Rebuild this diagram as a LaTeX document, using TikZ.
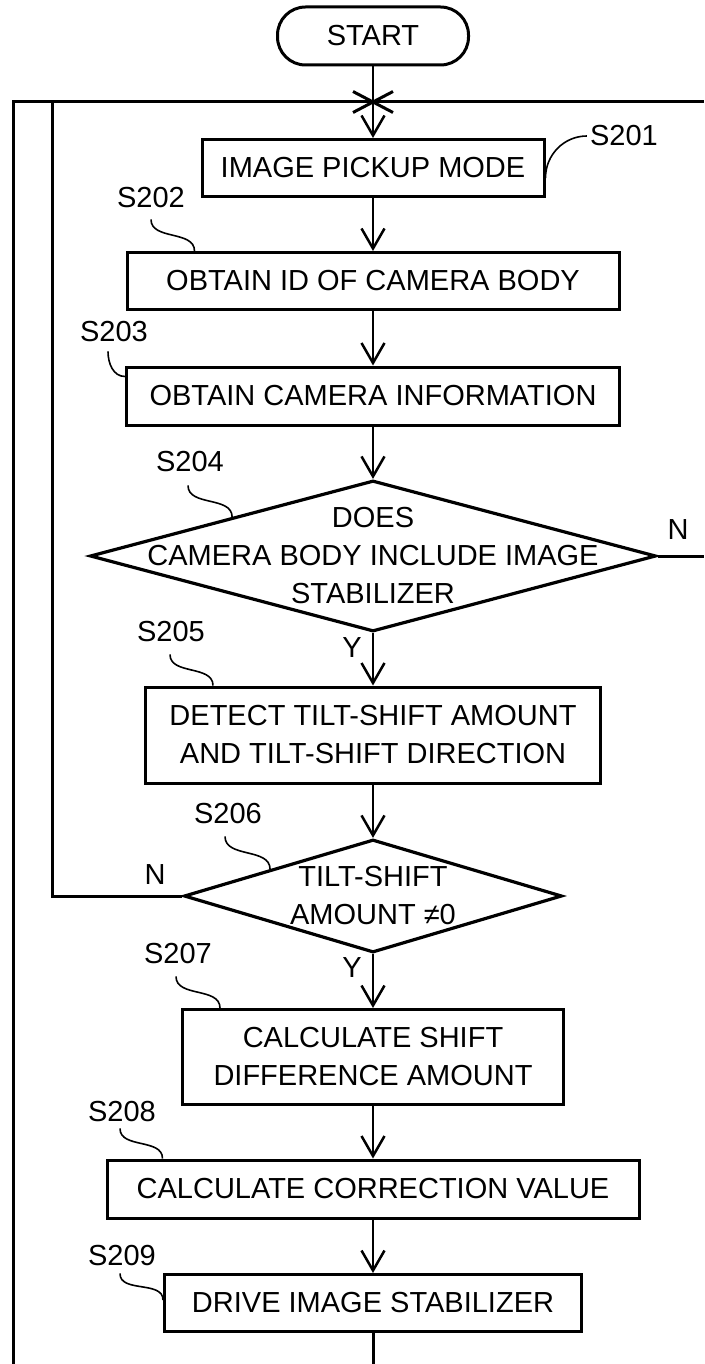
\documentclass[tikz,border=0pt]{standalone}
\usepackage{fontspec}
\setmainfont{Liberation Sans}
\usetikzlibrary{shapes.geometric,arrows.meta,calc}

\tikzset{
  terminal/.style={draw,line width=3pt,rounded corners=28pt,minimum width=191pt,minimum height=58pt,inner sep=0pt},
  process/.style={draw,line width=3pt,minimum height=57pt,inner sep=0pt,align=center},
  decision/.style={draw,diamond,line width=3.2pt,inner sep=0pt},
  steplabel/.style={inner sep=0pt},
  leader/.style={line width=1.6pt},
  flow/.style={line width=2.5pt,-{Straight Barb[length=20pt,width=23pt]}},
  loopline/.style={line width=3pt}
}

\begin{document}
\begin{tikzpicture}[x=1pt,y=1pt,font=\fontsize{29}{38}\selectfont]
\useasboundingbox (0,0) rectangle (704,-1364);
\node[terminal] (start) at (373,-36) {START};
\node[process,minimum width=342pt] (b201) at (373,-168) {IMAGE PICKUP MODE};
\node[process,minimum width=492pt] (b202) at (373,-281) {OBTAIN ID OF CAMERA BODY};
\node[process,minimum width=493pt,minimum height=58pt] (b203) at (373,-396) {OBTAIN CAMERA INFORMATION};
\node[decision,minimum width=566pt,minimum height=151pt] (d204) at (373,-556) {};
\node[align=center] (t204) at (d204) {DOES\\CAMERA BODY INCLUDE IMAGE\\STABILIZER};
\node[process,minimum width=455pt,minimum height=96pt] (b205) at (373,-735) {DETECT TILT-SHIFT AMOUNT\\AND TILT-SHIFT DIRECTION};
\node[decision,minimum width=378pt,minimum height=113pt] (d206) at (373,-896) {};
\node[align=center] (t206) at (d206) {TILT-SHIFT\\AMOUNT ≠0};
\node[process,minimum width=381pt,minimum height=95pt] (b207) at (373,-1057) {CALCULATE SHIFT\\DIFFERENCE AMOUNT};
\node[process,minimum width=532pt,minimum height=58pt] (b208) at (373,-1189) {CALCULATE CORRECTION VALUE};
\node[process,minimum width=417pt] (b209) at (373,-1303) {DRIVE IMAGE STABILIZER};

\node[steplabel] (s201) at (624,-136) {S201};
\node[steplabel] (s202) at (151,-198) {S202};
\node[steplabel] (s203) at (114,-332) {S203};
\node[steplabel] (s204) at (190,-462) {S204};
\node[steplabel] (s205) at (171,-632) {S205};
\node[steplabel] (s206) at (228,-814) {S206};
\node[steplabel] (s207) at (178,-954) {S207};
\node[steplabel] (s208) at (122,-1112) {S208};
\node[steplabel] (s209) at (122,-1256) {S209};

\node (y204) at (352,-648) {Y};
\node (n204) at (678,-530) {N};
\node (y206) at (352,-968) {Y};
\node (n206) at (155,-875) {N};

\coordinate (tl) at (13,-102);
\coordinate (tr) at (704,-102);
\coordinate (bl) at (13,-1364);
\coordinate (inner) at (52,-102);
\coordinate (cross) at (373,-102);
\coordinate (rout) at (704,-556);
\coordinate (bot) at (373,-1364);

\draw[loopline] (bl) -- (tl) -- (tr);
\draw[loopline] (d206.west) -- (d206.west -| inner) -- (inner);
\draw[loopline] (d204.east) -- (rout);
\draw[loopline] (b209.south) -- (bot);
\draw[loopline] ([shift={(-20,10.5)}]cross) -- ([shift={(20,-10.5)}]cross);
\draw[loopline] ([shift={(-20,-10.5)}]cross) -- ([shift={(20,10.5)}]cross);

\draw[flow] (start) -- (b201);
\draw[flow] (b201) -- (b202);
\draw[flow] (b202) -- (b203);
\draw[flow] (b203) -- (d204);
\draw[flow] (d204) -- (b205);
\draw[flow] (b205) -- (d206);
\draw[flow] (d206) -- (b207);
\draw[flow] (b207) -- (b208);
\draw[flow] (b208) -- (b209);

\draw[leader] ([yshift=-10pt]b201.east) to[out=90,in=180] ([xshift=-3pt]s201.west);
\draw[leader] ([yshift=-11pt]s202.south) to[out=-90,in=90] ([xshift=69pt]b202.north west);
\draw[leader] ([xshift=-6pt,yshift=-9pt]s203.south) to[out=-90,in=180] ([yshift=-11pt]b203.north west);
\draw[leader] ([xshift=-2pt,yshift=-13pt]s204.south) to[out=-90,in=90] ($(d204.west)!0.505!(d204.north)$);
\draw[leader] ([xshift=-1pt,yshift=-12pt]s205.south) to[out=-90,in=90] ([xshift=69pt]b205.north west);
\draw[leader] ([xshift=-3pt,yshift=-12pt]s206.south) to[out=-90,in=90] ($(d206.west)!0.46!(d206.north)$);
\draw[leader] ([xshift=-2pt,yshift=-12pt]s207.south) to[out=-90,in=90] ([xshift=39pt]b207.north west);
\draw[leader] ([xshift=-2pt,yshift=-6pt]s208.south) to[out=-90,in=90] ([xshift=57pt]b208.north west);
\draw[leader] ([xshift=-2pt,yshift=-7pt]s209.south) to[out=-90,in=90] ([yshift=-27pt]b209.north west);
\end{tikzpicture}
\end{document}
